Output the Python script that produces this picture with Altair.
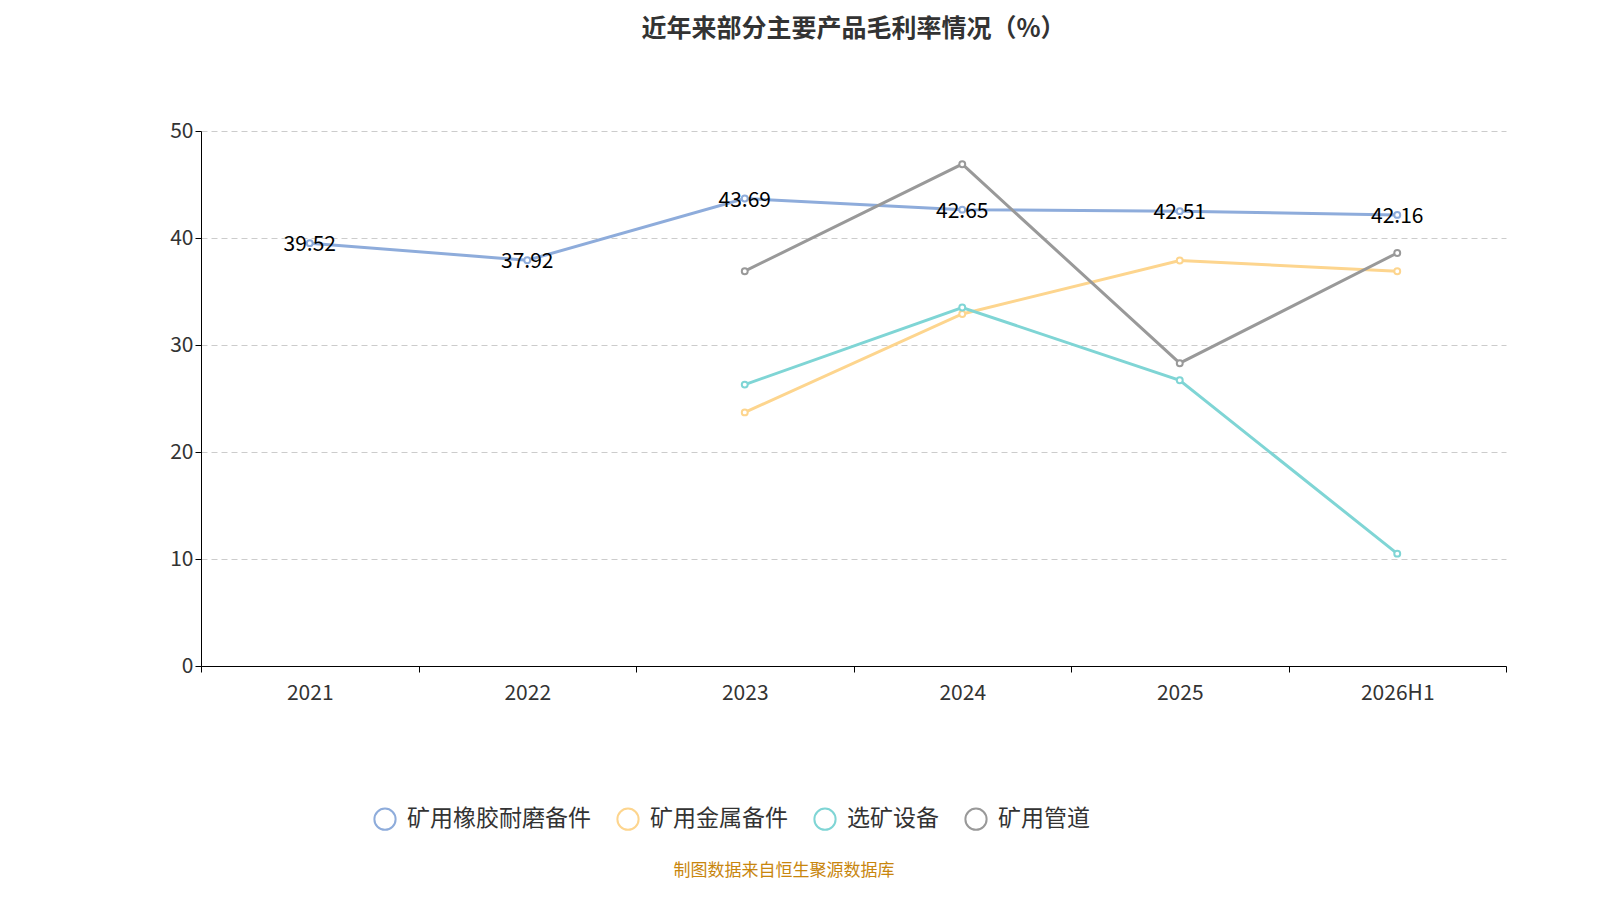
import pandas as pd
import altair as alt

# Data
YEARS = ['2021', '2022', '2023', '2024', '2025', '2026H1']
SERIES = ['矿用橡胶耐磨备件', '矿用金属备件', '选矿设备', '矿用管道']
COLORS = ['#8eacdb', '#fdd58e', '#7fd5d5', '#999999']

rubber = [39.52, 37.92, 43.69, 42.65, 42.51, 42.16]
metal = [None, None, 23.7, 32.9, 37.9, 36.9]
dressing = [None, None, 26.3, 33.5, 26.7, 10.5]
pipe = [None, None, 36.9, 46.9, 28.3, 38.6]

rows = []
for name, vals in zip(SERIES, [rubber, metal, dressing, pipe]):
    for y, v in zip(YEARS, vals):
        if v is not None:
            rows.append({'year': y, 'series': name, 'value': v})
df = pd.DataFrame(rows)
labels_df = df[df['series'] == SERIES[0]].copy()
labels_df['label'] = labels_df['value'].map(lambda v: f'{v:.2f}')

FONT = 'Noto Sans CJK SC'

x = alt.X('year:N', sort=YEARS, title=None,
          scale=alt.Scale(type='band', paddingInner=0, paddingOuter=0),
          axis=alt.Axis(labelFontSize=21, labelColor='#333', labelPadding=10,
                        tickBand='extent', tickSize=6, domainColor='#000',
                        tickColor='#000', labelAngle=0, labelFont=FONT))
y = alt.Y('value:Q', title=None,
          scale=alt.Scale(domain=[0, 50]),
          axis=alt.Axis(values=[0, 10, 20, 30, 40, 50], labelFontSize=21,
                        labelColor='#333', gridDash=[6, 4], gridColor='#ccc',
                        domainColor='#000', tickColor='#000', tickSize=6,
                        labelFont=FONT))
color = alt.Color('series:N', sort=SERIES, title=None,
                  scale=alt.Scale(domain=SERIES, range=COLORS),
                  legend=alt.Legend(orient='none', legendX=172, legendY=676,
                                    direction='horizontal', symbolType='circle',
                                    symbolSize=450, symbolFillColor='white',
                                    symbolStrokeWidth=2, labelFontSize=23,
                                    labelColor='#333', labelFont=FONT,
                                    labelLimit=0,
                                    columnPadding=22, labelOffset=10))

base = alt.Chart(df).encode(x=x, y=y, color=color)
lines = base.mark_line(strokeWidth=3)
points = base.mark_point(filled=False, fill='white', fillOpacity=1, size=35,
                         strokeWidth=2, opacity=1)

text = alt.Chart(labels_df).mark_text(fontSize=21, color='#000', font=FONT, dy=2).encode(
    x=alt.X('year:N', sort=YEARS), y='value:Q', text='label:N')

footer = alt.Chart(pd.DataFrame({'t': ['制图数据来自恒生聚源数据库']})).mark_text(
    fontSize=17, color='#c8860d', font=FONT).encode(
    x=alt.value(583), y=alt.value(740), text='t:N')

chart = alt.layer(lines, points, text, footer).properties(
    width=1305, height=535,
    autosize=alt.AutoSizeParams(type='none'),
    padding={'left': 193, 'top': 123, 'right': 80, 'bottom': 220},
    title=alt.Title('近年来部分主要产品毛利率情况（%）', fontSize=25, font=FONT,
                    fontWeight='bold', color='#333', offset=78, anchor='middle'),
).configure_view(stroke=None)

chart.save("out.html", embed_options={"renderer": "svg", "actions": False})
